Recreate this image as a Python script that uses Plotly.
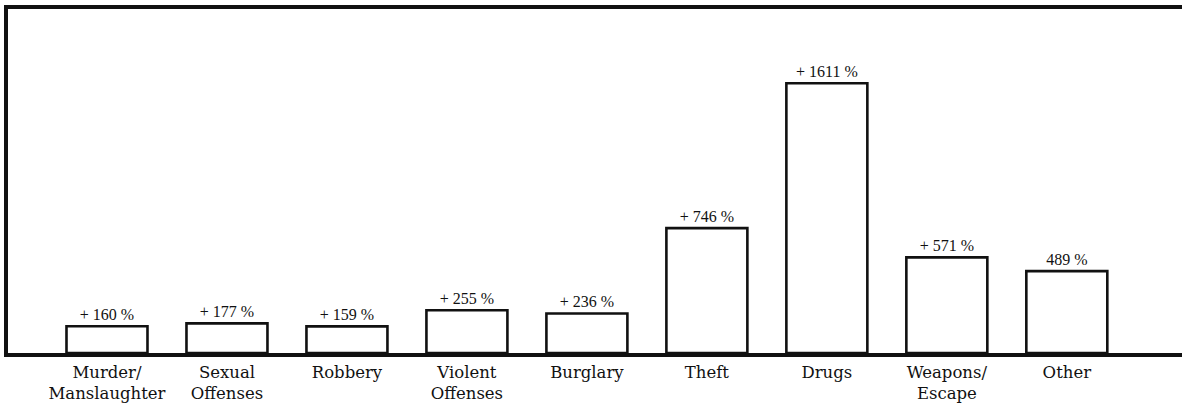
import plotly.graph_objects as go

categories = ["Murder/<br>Manslaughter", "Sexual<br>Offenses", "Robbery", "Violent<br>Offenses",
              "Burglary", "Theft", "Drugs", "Weapons/<br>Escape", "Other"]
increase_pct = [160, 177, 159, 255, 236, 746, 1611, 571, 489]
bar_labels = ["+ 160 %", "+ 177 %", "+ 159 %", "+ 255 %", "+ 236 %", "+ 746 %", "+ 1611 %", "+ 571 %", "489 %"]

fig = go.Figure(go.Bar(
    x=categories,
    y=increase_pct,
    text=bar_labels,
    textposition="outside",
    cliponaxis=False,
    textfont=dict(family="Liberation Serif", size=16, color="#111"),
    marker=dict(color="white", line=dict(color="#111", width=2.6)),
    width=0.675,
))

fig.update_layout(
    width=1182, height=413,
    margin=dict(l=8, r=0, t=9, b=60),
    paper_bgcolor="white", plot_bgcolor="white",
    showlegend=False,
    font=dict(family="DejaVu Serif", color="#111"),
)
fig.update_xaxes(
    type="category",
    range=[-0.825, 8.96],
    showline=True, linecolor="#111", linewidth=4, mirror=True,
    showgrid=False, ticks="",
    tickfont=dict(family="DejaVu Serif", size=16.5, color="#111"),
    ticklabelstandoff=1,
)
fig.update_yaxes(
    range=[0, 2055],
    showline=True, linecolor="#111", linewidth=3.5,
    showgrid=False, zeroline=False, showticklabels=False, ticks="",
)

fig.write_html("out.html", config={"displayModeBar": False})
with open("out.html", encoding="utf-8") as f:
    html = f.read()
html = html.replace("<head>", "<head><style>html,body{margin:0;padding:0;overflow:hidden;}</style>", 1)
with open("out.html", "w", encoding="utf-8") as f:
    f.write(html)
